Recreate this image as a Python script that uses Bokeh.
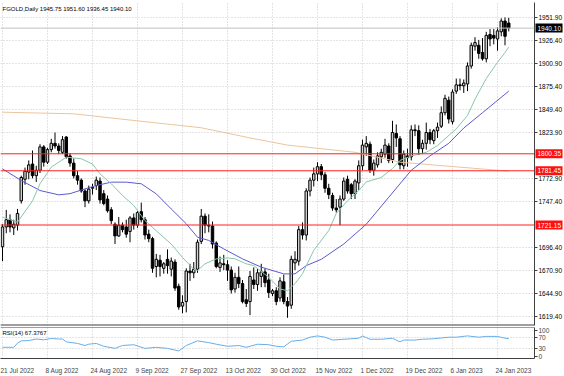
from bokeh.plotting import figure
from bokeh.models import Range1d, FixedTicker, Span, Label, PrintfTickFormatter, Grid
from bokeh.layouts import column, row
from bokeh.embed import file_html
from bokeh.resources import INLINE
from bokeh.core.properties import value

# ---------------- data ----------------
opens = [1697, 1719, 1727, 1718, 1721, 1748, 1772, 1780, 1789, 1776,
         1782, 1808, 1791, 1805, 1812, 1809, 1802, 1819, 1798, 1790,
         1776, 1771, 1759, 1748, 1762, 1765, 1770, 1756, 1750, 1738,
         1722, 1709, 1721, 1719, 1714, 1729, 1721, 1736, 1727, 1711,
         1706, 1675, 1682, 1673, 1683, 1672, 1680, 1653, 1631, 1636,
         1670, 1668, 1672, 1703, 1731, 1721, 1720, 1701, 1674, 1678,
         1677, 1671, 1650, 1663, 1656, 1638, 1636, 1660, 1655, 1664,
         1669, 1660, 1645, 1648, 1640, 1658, 1636, 1632, 1679, 1681,
         1716, 1710, 1759, 1771, 1778, 1786, 1777, 1762, 1754, 1740,
         1741, 1750, 1772, 1766, 1756, 1768, 1787, 1808, 1811, 1782,
         1788, 1797, 1800, 1809, 1794, 1823, 1817, 1787, 1798, 1797,
         1827, 1826, 1806, 1812, 1824, 1815, 1826, 1831, 1846, 1860,
         1836, 1870, 1877, 1876, 1878, 1898, 1920, 1921, 1913, 1906,
         1933, 1932, 1928, 1936, 1948, 1945.75]
highs = [1722, 1738, 1733, 1727, 1739, 1776, 1785, 1793, 1804, 1787,
         1811, 1810, 1807, 1817, 1824, 1812, 1820, 1820, 1801, 1795,
         1781, 1773, 1761, 1765, 1767, 1775, 1774, 1760, 1754, 1741,
         1724, 1730, 1724, 1727, 1731, 1734, 1738, 1746, 1730, 1716,
         1708, 1689, 1688, 1680, 1694, 1685, 1683, 1656, 1643, 1673,
         1678, 1680, 1705, 1739, 1734, 1733, 1725, 1703, 1686, 1688,
         1682, 1675, 1668, 1675, 1660, 1650, 1670, 1674, 1672, 1678,
         1673, 1667, 1650, 1652, 1663, 1666, 1641, 1687, 1692, 1720,
         1724, 1762, 1774, 1785, 1791, 1789, 1780, 1767, 1757, 1750,
         1754, 1774, 1776, 1768, 1772, 1793, 1816, 1820, 1814, 1794,
         1802, 1806, 1817, 1812, 1837, 1833, 1820, 1804, 1806, 1832,
         1833, 1832, 1816, 1835, 1828, 1828, 1835, 1853, 1866, 1864,
         1872, 1884, 1884, 1883, 1902, 1924, 1930, 1927, 1929, 1936,
         1939, 1939, 1941, 1951, 1952, 1951.6]
lows = [1681, 1712, 1713, 1710, 1715, 1745, 1766, 1772, 1773, 1769,
        1779, 1786, 1789, 1802, 1806, 1800, 1800, 1795, 1786, 1773,
        1766, 1757, 1741, 1745, 1755, 1760, 1745, 1743, 1735, 1722,
        1700, 1708, 1713, 1707, 1702, 1716, 1718, 1724, 1705, 1702,
        1668, 1663, 1664, 1667, 1667, 1664, 1648, 1627, 1623, 1624,
        1659, 1662, 1668, 1700, 1712, 1713, 1695, 1673, 1669, 1671,
        1659, 1645, 1646, 1651, 1634, 1630, 1621, 1650, 1648, 1652,
        1652, 1640, 1642, 1632, 1636, 1633, 1618, 1628, 1671, 1676,
        1705, 1704, 1753, 1764, 1770, 1771, 1757, 1750, 1737, 1735,
        1721, 1748, 1756, 1750, 1750, 1760, 1782, 1798, 1779, 1776,
        1785, 1790, 1796, 1790, 1790, 1808, 1783, 1783, 1786, 1793,
        1820, 1799, 1800, 1805, 1811, 1811, 1818, 1829, 1843, 1834,
        1833, 1867, 1871, 1868, 1870, 1895, 1915, 1906, 1904, 1902,
        1920, 1922, 1915, 1931, 1921, 1936.45]
closes = [1719, 1727, 1719, 1722, 1734, 1774, 1781, 1788, 1776, 1782,
          1808, 1791, 1805, 1812, 1809, 1804, 1816, 1797, 1790, 1776,
          1771, 1759, 1748, 1761, 1763, 1771, 1749, 1745, 1737, 1726,
          1709, 1721, 1716, 1711, 1729, 1721, 1735, 1727, 1710, 1706,
          1673, 1683, 1675, 1678, 1676, 1681, 1651, 1630, 1635, 1670,
          1668, 1672, 1702, 1731, 1721, 1720, 1700, 1675, 1679, 1677,
          1671, 1649, 1663, 1656, 1636, 1634, 1664, 1655, 1668, 1669,
          1657, 1646, 1648, 1636, 1659, 1636, 1631, 1683, 1683, 1716,
          1710, 1759, 1771, 1778, 1786, 1777, 1762, 1755, 1740, 1738,
          1750, 1770, 1759, 1756, 1770, 1787, 1810, 1812, 1782, 1790,
          1798, 1802, 1810, 1793, 1824, 1818, 1788, 1800, 1796, 1827,
          1826, 1806, 1812, 1824, 1816, 1826, 1830, 1846, 1862, 1839,
          1869, 1877, 1876, 1879, 1898, 1921, 1924, 1912, 1906, 1932,
          1928, 1929, 1937, 1948, 1931, 1940.1]

fast_ma_idx = [0, 4, 8, 10, 13, 17, 21, 24, 26, 29, 32, 35, 38, 42, 45, 48, 51, 52,
               54, 57, 60, 62, 65, 67, 71, 74, 76, 78, 80, 83, 87, 89, 92, 95, 97,
               101, 104, 106, 109, 113, 116, 118, 121, 124, 126, 129, 132, 134, 135]
fast_ma_val = [1729.8, 1724.3, 1748, 1767, 1785.5, 1796.6, 1794.8, 1789, 1778, 1767,
               1754, 1742.8, 1726, 1711, 1700, 1685, 1672, 1670.6, 1678, 1683.5,
               1684.6, 1683.5, 1678, 1676, 1663, 1650, 1648, 1656, 1667, 1693,
               1715, 1734, 1748, 1759.5, 1769, 1774, 1784, 1793, 1798, 1802,
               1809.5, 1817, 1828, 1843, 1861, 1884, 1902, 1913, 1919]
mid_ma_idx = [0, 5, 10, 15, 18, 22, 25, 29, 33, 37, 41, 45, 49, 52, 55, 59, 64, 69,
              75, 78, 81, 85, 91, 97, 103, 109, 114, 119, 123, 128, 135]
mid_ma_val = [1783.6, 1770.6, 1759.5, 1754.7, 1756, 1761.3, 1765, 1768.8, 1768.8,
              1767, 1755.8, 1739, 1722.5, 1707.6, 1704, 1694.6, 1683.5, 1674.3,
              1666.8, 1666.8, 1676, 1683, 1700, 1722, 1752, 1782, 1798, 1812,
              1829, 1846, 1870]
slow_ma_idx = [0, 19, 35, 53, 66, 76, 94, 106, 135]
slow_ma_val = [1846.6, 1844.8, 1837.4, 1829.3, 1818, 1810, 1802, 1791, 1781]

rsi_idx = [0, 3, 4, 5, 7, 9, 11, 13, 15, 16, 17, 20, 22, 23, 25, 27, 30, 32, 35, 38,
           41, 44, 47, 49, 52, 55, 57, 60, 63, 65, 68, 71, 73, 75, 77, 78, 80, 82,
           84, 86, 88, 91, 95, 96, 98, 101, 104, 106, 107, 110, 112, 115, 119, 121,
           124, 127, 129, 132, 134, 135]
rsi_val = [34, 34, 50, 59, 60, 66, 63, 68, 66, 66, 55, 49, 41, 46, 49, 38, 30, 41, 44,
           30, 34, 30, 20, 41, 59, 52, 46, 38, 41, 34, 46, 44, 38, 36, 57, 59, 62, 73,
           78, 73, 62, 65, 69, 78, 65, 65, 69, 55, 62, 62, 65, 67, 73, 73, 78, 73, 76,
           76, 69, 67.4]

date_ticks = [0, 12, 24, 36, 48, 60, 72, 84, 96, 108, 120, 132]
date_labels = ["21 Jul 2022", "8 Aug 2022", "24 Aug 2022", "9 Sep 2022", "27 Sep 2022",
               "13 Oct 2022", "30 Oct 2022", "15 Nov 2022", "1 Dec 2022", "19 Dec 2022",
               "6 Jan 2023", "24 Jan 2023"]
price_ticks = [1951.90, 1926.40, 1900.90, 1875.40, 1849.40, 1823.90,
               1772.90, 1747.40, 1696.40, 1670.90, 1644.90, 1619.40]
level_prices = [1800.35, 1781.45, 1721.15]
rsi_ticks = [0, 30, 70, 100]
rsi_levels = [30, 70]
title_text = "FGOLD,Daily  1945.75 1951.60 1936.45 1940.10"
rsi_text = "RSI(14) 67.3767"

# ---------------- styling / layout ----------------
FONT = "Liberation Sans"
FS = "6.5px"
FSN = 6.5
BAR_PX = 3.75
x_start = -2 / BAR_PX
x_end = x_start + 534 / BAR_PX
xr = Range1d(x_start, x_end)
yr = Range1d(1609.4, 1968.58)
GRID = "#c8c8c8"
DARK = "#404040"

p = figure(width=564, height=326, x_range=xr, y_range=yr,
           output_backend="svg", toolbar_location=None, x_axis_location=None,
           y_axis_location="right", min_border_left=0, min_border_right=30,
           min_border_top=2, min_border_bottom=1, outline_line_color=None,
           background_fill_color="white", border_fill_color="white")

p.yaxis.ticker = FixedTicker(ticks=price_ticks)
p.yaxis.formatter = PrintfTickFormatter(format="%.2f")
p.yaxis.major_label_text_font = FONT
p.yaxis.major_label_text_font_size = FS
p.yaxis.major_label_text_color = "black"
p.yaxis.major_label_standoff = 1
p.yaxis.major_tick_out = 3
p.yaxis.major_tick_in = 0
p.yaxis.minor_tick_line_color = None
p.yaxis.axis_line_color = DARK
p.yaxis.major_tick_line_color = DARK

if len(p.xgrid) > 0:
    p.xgrid.ticker = FixedTicker(ticks=date_ticks)
else:
    p.add_layout(Grid(dimension=0, ticker=FixedTicker(ticks=date_ticks)))
for g in list(p.xgrid) + list(p.ygrid):
    g.grid_line_color = GRID
    g.grid_line_dash = "1 2"

# candles
idx = list(range(len(opens)))
bull = [i for i in idx if closes[i] >= opens[i]]
bear = [i for i in idx if closes[i] < opens[i]]
p.segment(x0=idx, y0=lows, x1=idx, y1=highs, line_color="black", line_width=1)
p.vbar(x=bull, width=0.65, top=[closes[i] for i in bull], bottom=[opens[i] for i in bull],
       fill_color="#d4d4d4", line_color="black", line_width=1)
p.vbar(x=bear, width=0.65, top=[opens[i] for i in bear], bottom=[closes[i] for i in bear],
       fill_color="black", line_color="black", line_width=1)

# moving averages
p.line(slow_ma_idx, slow_ma_val, line_color="#ecc49c", line_width=1)
p.line(mid_ma_idx, mid_ma_val, line_color="#5a5ad2", line_width=1)
p.line(fast_ma_idx, fast_ma_val, line_color="#86c8a6", line_width=1)

# horizontal levels
for lv in level_prices:
    p.add_layout(Span(location=lv, dimension="width", line_color="#ff2020", line_width=1))
p.add_layout(Span(location=closes[-1], dimension="width", line_color="#c0c0c0", line_width=1))
p.add_layout(Span(location=1609.4, dimension="width", line_color=DARK, line_width=2))

p.add_layout(Label(x=x_start, y=1968.58, x_offset=2, y_offset=-3, text=title_text,
                   text_font=FONT, text_font_size="6px", text_color="black",
                   text_baseline="top", text_align="left"))

# ---------------- price boxes overlaid on the price scale ----------------
box_prices = level_prices + [closes[-1]]
box_texts = [f"{v:.2f}" for v in box_prices]
box_colors = ["#ff1010", "#ff1010", "#ff1010", "black"]
q = figure(width=30, height=326, x_range=Range1d(0, 30), y_range=yr,
           output_backend="svg", toolbar_location=None, x_axis_location=None,
           y_axis_location=None, min_border_left=0, min_border_right=0,
           min_border_top=2, min_border_bottom=1, outline_line_color=None,
           background_fill_color=None, border_fill_color=None, margin=(0, 0, 0, -30))
for g in list(q.xgrid) + list(q.ygrid):
    g.visible = False
q.rect(x=[14.5] * 4, y=box_prices, width=27, height=9, height_units="screen",
       fill_color=box_colors, line_color=None)
q.text(x=[3] * 4, y=box_prices, text=box_texts, text_color="white",
       text_font=value(FONT), text_font_size=FS, text_baseline="middle", text_align="left")

# ---------------- RSI panel ----------------
p2 = figure(width=564, height=50, x_range=xr, y_range=Range1d(-9.0, 110.3),
            output_backend="svg", toolbar_location=None, y_axis_location="right",
            min_border_left=0, min_border_right=30, min_border_top=1, min_border_bottom=12,
            outline_line_color=None, background_fill_color="white", border_fill_color="white")
p2.yaxis.ticker = FixedTicker(ticks=rsi_ticks)
p2.yaxis.major_label_text_font = FONT
p2.yaxis.major_label_text_font_size = FS
p2.yaxis.major_label_standoff = 1
p2.yaxis.major_tick_out = 3
p2.yaxis.major_tick_in = 0
p2.yaxis.minor_tick_line_color = None
p2.yaxis.axis_line_color = DARK
p2.yaxis.major_tick_line_color = DARK

cw = {'0': .556, '1': .556, '2': .556, '3': .556, '4': .556, '5': .556, '6': .556,
      '7': .556, '8': .556, '9': .556, ' ': .278, 'J': .5, 'u': .556, 'l': .222,
      'A': .667, 'g': .556, 'S': .667, 'e': .556, 'p': .556, 'O': .778, 'c': .5,
      't': .278, 'N': .722, 'o': .556, 'v': .5, 'D': .722, 'a': .556, 'n': .556}
label_ticks = []
overrides = {}
for d, lab in zip(date_ticks, date_labels):
    wpx = sum(cw.get(ch, .556) for ch in lab) * FSN
    t = round(d + (wpx / 2 - 2) / BAR_PX, 3)
    label_ticks.append(t)
    overrides[t] = lab
p2.xaxis.ticker = FixedTicker(ticks=label_ticks)
p2.xaxis.major_label_overrides = overrides
p2.xaxis.major_label_text_font = FONT
p2.xaxis.major_label_text_font_size = FS
p2.xaxis.major_label_standoff = 2
p2.xaxis.major_tick_line_color = None
p2.xaxis.minor_tick_line_color = None
p2.xaxis.axis_line_color = DARK

p2.xgrid.ticker = FixedTicker(ticks=date_ticks)
p2.ygrid.ticker = FixedTicker(ticks=rsi_levels)
for g in list(p2.xgrid) + list(p2.ygrid):
    g.grid_line_color = GRID
    g.grid_line_dash = "1 2"

p2.add_layout(Span(location=110.3, dimension="width", line_color=DARK, line_width=1))
p2.line(rsi_idx, rsi_val, line_color="#6aaee8", line_width=1)
p2.add_layout(Label(x=x_start, y=110.3, x_offset=2, y_offset=-2, text=rsi_text,
                    text_font=FONT, text_font_size="6px", text_color="black",
                    text_baseline="top", text_align="left"))

layout = column(row(p, q), p2)
open("out.html", "w").write(file_html(layout, INLINE))
